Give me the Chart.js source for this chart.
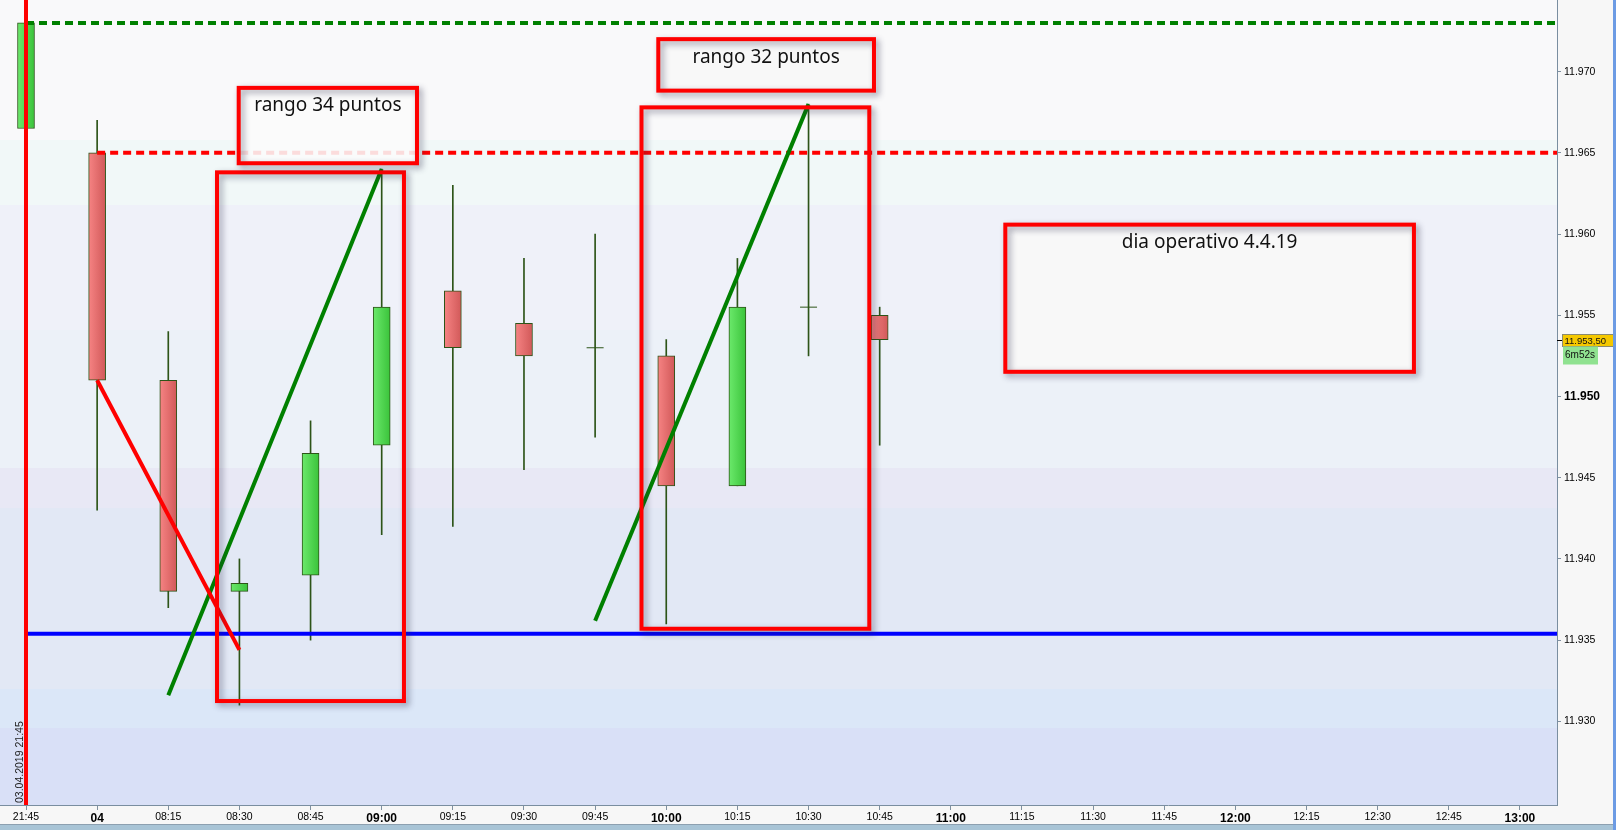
<!DOCTYPE html>
<html>
<head>
<meta charset="utf-8">
<script src="https://cdn.jsdelivr.net/npm/chart.js@4/dist/chart.umd.min.js"></script>
<style>
  html, body { margin: 0; padding: 0; background: #f7f7f7; }
  #wrap { width: 1616px; height: 830px; position: relative; }
</style>
</head>
<body>
<div id="wrap"><canvas id="chart"></canvas></div>
<script>
// 15 min candles, 03.04.2019 21:45 -> 04.04.2019 10:45
var times = ['21:45', '04', '08:15', '08:30', '08:45', '09:00', '09:15', '09:30', '09:45', '10:00', '10:15',
             '10:30', '10:45', '11:00', '11:15', '11:30', '11:45', '12:00', '12:15', '12:30', '12:45', '13:00']
var opens  = [11966.5, 11965, 11951, 11938,   11939,   11947,   11956.5, 11954.5, 11953, 11952.5, 11944.5, 11955.5, 11955]
var highs  = [11973,   11967, 11954, 11940,   11948.5, 11964,   11963,   11958.5, 11960, 11953.5, 11958.5, 11968,   11955.5]
var lows   = [11966.5, 11943, 11937, 11931,   11935,   11941.5, 11942,   11945.5, 11947.5, 11936, 11944.5, 11952.5, 11947]
var closes = [11973,   11951, 11938, 11938.5, 11946.5, 11955.5, 11953,   11952.5, 11953, 11944.5, 11955.5, 11955.5, 11953.5]

var priceTicks = [11930, 11935, 11940, 11945, 11950, 11955, 11960, 11965, 11970]

// horizontal levels [price, start index]
var greenLevel = [11973, 0]
var redLevel   = [11965, 1]
var blueLevel  = [11935.4, 0]

// hand drawn trend lines [[index, price], [index, price]]
var trendRed    = [[1, 11951], [3, 11934.4]]
var trendGreenA = [[2, 11931.6], [5, 11964]]
var trendGreenB = [[8, 11936.2], [11, 11968]]

// rectangles [x1, x2, priceTop, priceBottom]
var rangeBoxes = [[2.685, 5.313, 11963.8, 11931.25], [8.652, 11.854, 11967.8, 11935.7]]
var noteTexts  = ['rango 34 puntos', 'rango 32 puntos', 'dia operativo 4.4.19']
var noteBoxes  = [[2.99, 5.496, 11969.0, 11964.36], [8.888, 11.92, 11972.0, 11968.83], [13.766, 19.51, 11960.58, 11951.52]]

var X_MIN = -0.3655, X_MAX = 21.521
var Y_MIN = 11924.85, Y_MAX = 11974.41

var wickCol = '#2d5418'
var idx = opens.map(function (o, i) { return i })

var wickData = idx.map(function (i) { return {x: i, y: [lows[i], highs[i]]} })
var bodyData = idx.filter(function (i) { return opens[i] !== closes[i] })
                  .map(function (i) { return {x: i, y: [opens[i], closes[i]], up: closes[i] > opens[i]} })
var dojiData = idx.filter(function (i) { return opens[i] === closes[i] })
                  .map(function (i) { return {x: i, y: closes[i]} })

function seg(p) { return [{x: p[0][0], y: p[0][1]}, {x: p[1][0], y: p[1][1]}] }
function level(l) { return [{x: l[1], y: l[0]}, {x: X_MAX, y: l[0]}] }

function bodyFill(c) {
    var up = c.raw && c.raw.up
    var solid = up ? '#52d652' : '#e26c6c'
    if (c.type !== 'data' || !c.chart.scales.x) return solid
    var px = c.chart.scales.x.getPixelForValue(c.raw.x)
    if (!isFinite(px)) return solid
    var g = c.chart.ctx.createLinearGradient(px - 8, 0, px + 8, 0)
    if (up) { g.addColorStop(0, '#6ae86a'); g.addColorStop(1, '#3cc43c') }
    else    { g.addColorStop(0, '#f58282'); g.addColorStop(1, '#d25a5a') }
    return g
}

function lineDs(data, color, order, dash) {
    return {type: 'line', data: data, borderColor: color, borderWidth: 4, borderDash: dash || [],
            pointRadius: 0, tension: 0, fill: false, order: order, borderCapStyle: 'butt'}
}

// plot background bands (top px of an 805px high plot, colour)
var bands = [[0, '#f9f9fa'], [140, '#f1f8f8'], [205, '#eff1f9'], [330, '#ecf1f8'], [468, '#e8e8f5'],
             [508, '#e2e8f5'], [689, '#dbe7f8'], [728, '#d9e0f7']]

var bgPlugin = {
    id: 'bg',
    beforeDraw: function (chart) {
        var ctx = chart.ctx, a = chart.chartArea
        ctx.save()
        ctx.fillStyle = '#f7f7f7'
        ctx.fillRect(0, 0, chart.width, chart.height)
        var h = a.bottom - a.top
        for (var i = 0; i < bands.length; i++) {
            var y0 = a.top + bands[i][0] / 805 * h
            var y1 = i + 1 < bands.length ? a.top + bands[i + 1][0] / 805 * h : a.bottom
            ctx.fillStyle = bands[i][1]
            ctx.fillRect(a.left, y0, a.right - a.left, y1 - y0)
        }
        ctx.restore()
    }
}

var notesPlugin = {
    id: 'notes',
    afterDatasetsDraw: function (chart) {
        var ctx = chart.ctx, xs = chart.scales.x, ys = chart.scales.y
        ctx.save()
        function shadow(on) {
            ctx.shadowColor = on ? 'rgba(40,40,70,0.45)' : 'transparent'
            ctx.shadowBlur = on ? 6 : 0
            ctx.shadowOffsetX = on ? 3 : 0
            ctx.shadowOffsetY = on ? 3 : 0
        }
        ctx.lineWidth = 4
        ctx.strokeStyle = '#ff0000'
        rangeBoxes.forEach(function (b) {
            var x1 = xs.getPixelForValue(b[0]), x2 = xs.getPixelForValue(b[1])
            var y1 = ys.getPixelForValue(b[2]), y2 = ys.getPixelForValue(b[3])
            shadow(true)
            ctx.strokeRect(x1, y1, x2 - x1, y2 - y1)
        })
        noteBoxes.forEach(function (b, i) {
            var x1 = xs.getPixelForValue(b[0]), x2 = xs.getPixelForValue(b[1])
            var y1 = ys.getPixelForValue(b[2]), y2 = ys.getPixelForValue(b[3])
            shadow(false)
            ctx.fillStyle = i === 0 ? 'rgba(250,250,250,0.88)' : '#f8f8f8'
            ctx.fillRect(x1, y1, x2 - x1, y2 - y1)
            shadow(true)
            ctx.strokeRect(x1, y1, x2 - x1, y2 - y1)
            shadow(false)
            ctx.fillStyle = '#111'
            ctx.font = '19px "Noto Sans"'
            ctx.textAlign = 'center'
            ctx.textBaseline = 'middle'
            ctx.fillText(noteTexts[i], (x1 + x2) / 2, y1 + 18)
        })
        // session start stamp
        ctx.translate(xs.getPixelForValue(0) - 6, chart.chartArea.bottom - 2)
        ctx.rotate(-Math.PI / 2)
        ctx.font = '10.5px "Liberation Sans"'
        ctx.fillStyle = '#222'
        ctx.textAlign = 'left'
        ctx.textBaseline = 'middle'
        ctx.fillText('03.04.2019 21:45', 0, 0)
        ctx.restore()
    },
    afterDraw: function (chart) {
        var ctx = chart.ctx, ys = chart.scales.y, a = chart.chartArea
        var last = closes[closes.length - 1]
        var y = Math.round(ys.getPixelForValue(last)) + 0.5
        ctx.save()
        ctx.strokeStyle = '#000'
        ctx.lineWidth = 1
        ctx.beginPath(); ctx.moveTo(a.right, y); ctx.lineTo(a.right + 6, y); ctx.stroke()
        var s = last.toFixed(2).split('.')
        var txt = s[0].slice(0, -3) + '.' + s[0].slice(-3) + ',' + s[1]
        ctx.fillStyle = '#f5c800'
        ctx.fillRect(a.right + 5.5, y - 6, 51, 12)
        ctx.strokeStyle = '#8a8a70'
        ctx.strokeRect(a.right + 5.5, y - 6, 51, 12)
        ctx.fillStyle = '#90e290'
        ctx.fillRect(a.right + 6, y + 6, 35, 18)
        ctx.fillStyle = '#111'
        ctx.font = '9.5px "Liberation Sans"'
        ctx.textBaseline = 'middle'
        ctx.textAlign = 'left'
        ctx.fillText(txt, a.right + 7.5, y + 0.5)
        ctx.font = '10px "Liberation Sans"'
        ctx.fillText('6m52s', a.right + 8, y + 15)
        // window edges
        ctx.fillStyle = '#a8c4d6'
        ctx.fillRect(0, chart.height - 5, chart.width, 5)
        ctx.fillStyle = '#8da0b0'
        ctx.fillRect(0, chart.height - 6, chart.width, 1)
        ctx.fillStyle = '#6c9be4'
        ctx.fillRect(chart.width - 3, 0, 3, chart.height)
        ctx.restore()
    }
}

var ctx = document.getElementById('chart').getContext('2d')
var chart = new Chart(ctx, {
    type: 'bar',
    data: {
        datasets: [
            lineDs([{x: 0, y: Y_MIN}, {x: 0, y: Y_MAX}], '#ff0000', 0),
            lineDs(seg(trendRed), '#ff0000', 1),
            lineDs(seg(trendGreenA), '#008000', 1),
            lineDs(seg(trendGreenB), '#008000', 1),
            lineDs(level(greenLevel), '#008000', 2, [8, 5]),
            lineDs(level(redLevel), '#ff0000', 2, [8, 5]),
            lineDs(level(blueLevel), '#0000ff', 2),
            {type: 'line', data: dojiData, showLine: false, pointStyle: 'line', pointRadius: 8.5,
             pointBorderColor: wickCol, pointBorderWidth: 1, order: 3},
            {data: bodyData, barThickness: 17, grouped: false, backgroundColor: bodyFill,
             borderColor: wickCol, borderWidth: 1, borderSkipped: false, order: 3},
            {data: wickData, barThickness: 1, grouped: false, backgroundColor: wickCol, borderWidth: 0, order: 4}
        ]
    },
    options: {
        responsive: true,
        maintainAspectRatio: false,
        animation: false,
        layout: {padding: 0, autoPadding: false},
        plugins: {legend: {display: false}, tooltip: {enabled: false}},
        scales: {
            x: {
                type: 'linear', min: X_MIN, max: X_MAX, offset: false,
                grid: {drawOnChartArea: false, offset: false, tickLength: 5, color: '#8090a0'},
                border: {color: '#7a8ea0', width: 1},
                afterBuildTicks: function (s) { s.ticks = times.map(function (t, i) { return {value: i} }) },
                afterFit: function (s) { s.height = 25; s.paddingLeft = 0; s.paddingRight = 0 },
                ticks: {
                    color: '#000', padding: 1, maxRotation: 0, autoSkip: false,
                    callback: function (v) { return times[v] },
                    font: function (c) {
                        var t = c.tick ? times[c.tick.value] : ''
                        var bold = t && (t.length === 2 || t.slice(-3) === ':00')
                        return bold ? {family: '"Liberation Sans"', size: 12, weight: 'bold'}
                                    : {family: '"Liberation Sans"', size: 10.5}
                    }
                }
            },
            y: {
                position: 'right', min: Y_MIN, max: Y_MAX,
                grid: {drawOnChartArea: false, tickLength: 4, color: '#8090a0'},
                border: {color: '#7a8ea0', width: 1},
                afterBuildTicks: function (s) { s.ticks = priceTicks.map(function (v) { return {value: v} }) },
                afterFit: function (s) { s.width = 59; s.paddingTop = 0; s.paddingBottom = 0 },
                ticks: {
                    color: '#000', padding: 3,
                    callback: function (v) { return (v / 1000).toFixed(3) },
                    font: function (c) {
                        return c.tick && c.tick.value === 11950 ? {family: '"Liberation Sans"', size: 12, weight: 'bold'}
                                                                : {family: '"Liberation Sans"', size: 10.5}
                    }
                }
            }
        }
    },
    plugins: [bgPlugin, notesPlugin]
})
</script>
</body>
</html>
